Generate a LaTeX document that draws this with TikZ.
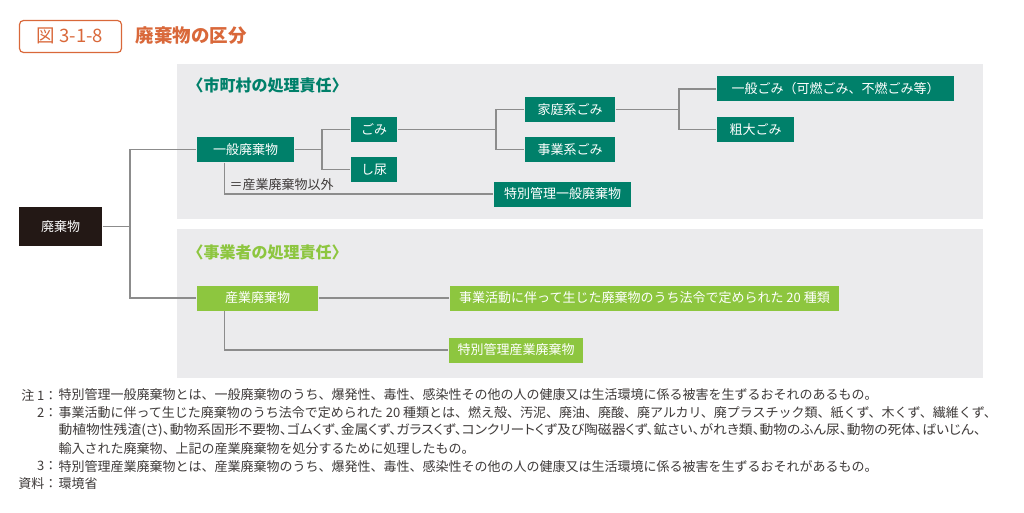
\documentclass[tikz,border=0pt]{standalone}
\usepackage{fontspec}
\setmainfont{Noto Sans CJK JP}
\newfontfamily\jpprop[RawFeature=+palt]{Noto Sans CJK JP}
\usetikzlibrary{positioning}

\definecolor{titleorange}{HTML}{D9683A}
\definecolor{dkgreen}{HTML}{00806A}
\definecolor{ltgreen}{HTML}{8DC63F}
\definecolor{panelgrey}{HTML}{EBEBED}
\definecolor{linegrey}{HTML}{8C8C8C}
\definecolor{notetext}{HTML}{3E3A39}
\definecolor{topbox}{HTML}{231815}

\tikzset{every picture/.style={line width=1.2pt}}
\tikzset{
  boxbase/.style={inner sep=0pt, minimum height=25pt, text=white, font=\fontsize{13}{15}\selectfont},
  dkbox/.style={boxbase, fill=dkgreen},
  ltbox/.style={boxbase, fill=ltgreen},
  conn/.style={draw=linegrey},
  notelbl/.style={anchor=east, inner sep=0pt, text=notetext, font=\fontsize{13}{15}\selectfont},
  notebody/.style={anchor=west, inner sep=0pt, text=notetext, font=\fontsize{13}{15}\selectfont},
}

\begin{document}
\begin{tikzpicture}[x=1pt,y=1pt,yscale=-1,xscale=1]
\useasboundingbox (0,0) rectangle (1024,513);
% title
\draw [titleorange, rounded corners=4pt] (19.5,20.5) rectangle (121.5,52.5);
\node (fignum) at (70,36) [inner sep=0pt, text=titleorange, font=\fontsize{18.5}{20}\selectfont] {図 3-1-8};
\node (figtitle) at (135,36) [anchor=west, inner sep=0pt, text=titleorange, font=\fontsize{18.5}{20}\selectfont\bfseries] {廃棄物の区分};
% panels
\fill [panelgrey] (177,64) rectangle (983,219);
\fill [panelgrey] (177,229) rectangle (983,378);
\node (head1) at (187,85) [anchor=west, inner sep=0pt, text=dkgreen, font=\fontsize{16}{18}\selectfont\bfseries] {〈市町村の処理責任〉};
\node (head2) at (187,252) [anchor=west, inner sep=0pt, text=ltgreen, font=\fontsize{16}{18}\selectfont\bfseries] {〈事業者の処理責任〉};
% boxes
\node (haiki) at (60.5,226.5) [boxbase, fill=topbox, minimum width=83pt, minimum height=39pt] {廃棄物};
\node (ippan) at (245.5,149.5) [dkbox, minimum width=97pt] {一般廃棄物};
\node (gomi) at (374,129.5) [dkbox, minimum width=46pt] {ごみ};
\node (shinyo) at (374,169.5) [dkbox, minimum width=46pt] {し尿};
\node (katei) at (570,109.5) [dkbox, minimum width=90pt] {家庭系ごみ};
\node (jigyo) at (570,149.5) [dkbox, minimum width=90pt] {事業系ごみ};
\node (ippangomi) at (835.5,89) [dkbox, minimum width=237pt] {一般ごみ（可燃ごみ、不燃ごみ等）};
\node (sodai) at (755.5,129.5) [dkbox, minimum width=77pt] {粗大ごみ};
\node (tokuippan) at (562.5,194) [dkbox, minimum width=137pt] {特別管理一般廃棄物};
\node (sangyo) at (257.5,298) [ltbox, minimum width=121pt] {産業廃棄物};
\node (nijuu) at (644.5,298) [ltbox, minimum width=389pt] {事業活動に伴って生じた廃棄物のうち法令で定められた 20 種類};
\node (tokusan) at (516,350) [ltbox, minimum width=134pt] {特別管理産業廃棄物};
\node (igai) at (229,185) [anchor=west, inner sep=0pt, text=notetext, font=\fontsize{13}{15}\selectfont] {＝産業廃棄物以外};
% connectors
\coordinate (brA) at (130,226.5);
\coordinate (brB) at (322,149.5);
\coordinate (brC) at (496,129.5);
\coordinate (brD) at (679,109.5);
\coordinate (tapA) at ([xshift=28pt]ippan.south west);
\coordinate (tapB) at ([xshift=28pt]sangyo.south west);
\draw [conn] (haiki.east) -- (brA);
\draw [conn] (ippan.west) -| (brA) |- (sangyo.west);
\draw [conn] (ippan.east) -- (brB);
\draw [conn] (gomi.west) -| (brB) |- (shinyo.west);
\draw [conn] (gomi.east) -- (brC);
\draw [conn] (katei.west) -| (brC) |- (jigyo.west);
\draw [conn] (katei.east) -- (brD);
\draw [conn] (ippangomi.west) -| (brD) |- (sodai.west);
\draw [conn] (tapA) |- (tokuippan.west);
\draw [conn] (sangyo.east) -- (nijuu.west);
\draw [conn] (tapB) |- (tokusan.west);
% notes
\node (n1l) at (58,395) [notelbl] {注 1：};
\node (n1) at (58,395) [notebody] {特別管理一般廃棄物とは、一般廃棄物のうち、爆発性、毒性、感染性その他の人の健康又は生活環境に係る被害を生ずるおそれのあるもの。};
\node (n2l) at (58,412.8) [notelbl] {2：};
\node (n2) at (58,412.8) [notebody] {事業活動に伴って生じた廃棄物のうち法令で定められた 20 種類とは、燃え殻、汚泥、廃油、廃酸、廃アルカリ、廃プラスチック類、紙くず、木くず、繊維くず、};
\node (n3) at (58,430.6) [notebody] {\scalebox{1.06}[1]{\jpprop 動植物性残渣(さ)、動物系固形不要物、ゴムくず、金属くず、ガラスくず、コンクリートくず及び陶磁器くず、鉱さい、がれき類、動物のふん尿、動物の死体、ばいじん、}};
\node (n4) at (58,448.4) [notebody] {輸入された廃棄物、上記の産業廃棄物を処分するために処理したもの。};
\node (n5l) at (58,466.2) [notelbl] {3：};
\node (n5) at (58,466.2) [notebody] {特別管理産業廃棄物とは、産業廃棄物のうち、爆発性、毒性、感染性その他の人の健康又は生活環境に係る被害を生ずるおそれがあるもの。};
\node (n6l) at (58,484) [notelbl] {資料：};
\node (n6) at (58,484) [notebody] {環境省};
\end{tikzpicture}
\end{document}
